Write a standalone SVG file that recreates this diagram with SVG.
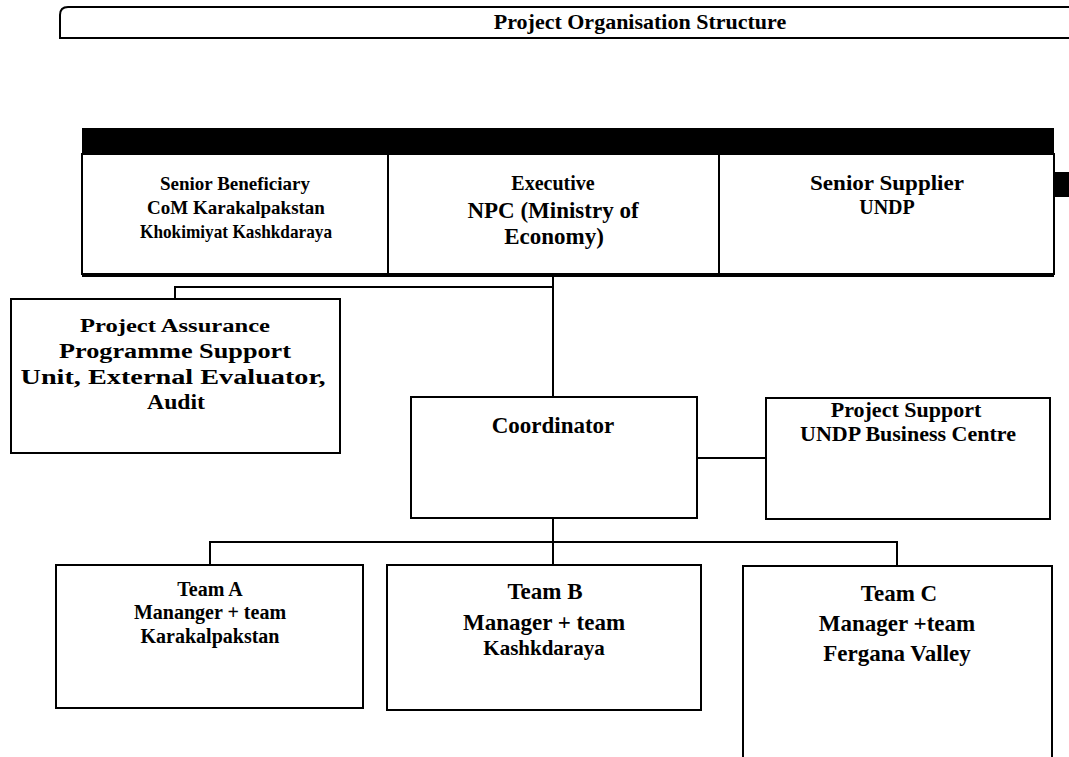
<svg xmlns="http://www.w3.org/2000/svg" width="1069" height="757" viewBox="0 0 1069 757">
<style>
.box{fill:#fff;stroke:#000;stroke-width:2}
.c{fill:none;stroke:#000;stroke-width:2}
text{font-family:"Liberation Serif","Times New Roman",serif;font-weight:bold;fill:#000;text-anchor:middle}
.s18{font-size:18px}
.s19{font-size:19px}
.s20{font-size:20px}
.s21{font-size:21px}
.s22{font-size:22px}
.s23{font-size:23px}
</style>
<rect width="1069" height="757" fill="#fff"/>
<g id="title">
<path d="M1075,7 H68 Q60,7 60,15 V38 H1075" fill="none" stroke="#000" stroke-width="2"/>
<text x="640" y="29" class="s22">Project Organisation Structure</text>
</g>
<g id="board">
<rect x="82" y="128" width="972" height="26" fill="#000"/>
<rect x="1054" y="172" width="15" height="25" fill="#000"/>
</g>
<g id="senior-beneficiary">
<rect class="box" x="82" y="154" width="306" height="120"/>
<text x="235" y="190" class="s19">Senior Beneficiary</text>
<text x="236" y="214" class="s19">CoM Karakalpakstan</text>
<text x="236" y="238" class="s19" textLength="192" lengthAdjust="spacingAndGlyphs">Khokimiyat Kashkdaraya</text>
</g>
<g id="executive">
<rect class="box" x="388" y="154" width="331" height="120"/>
<text x="553" y="190" class="s20">Executive</text>
<text x="553" y="218" class="s23">NPC (Ministry of</text>
<text x="554" y="244" class="s23">Economy)</text>
</g>
<g id="senior-supplier">
<rect class="box" x="719" y="154" width="335" height="120"/>
<text x="887" y="190" class="s20" textLength="154" lengthAdjust="spacingAndGlyphs">Senior Supplier</text>
<text x="887" y="214" class="s20">UNDP</text>
</g>
<g id="connectors">
<path class="c" d="M82,276 H1054"/>
<path class="c" d="M175,299 V287 H553"/>
<path class="c" d="M553,276 V397"/>
<path class="c" d="M697,458 H766"/>
<path class="c" d="M553,518 V542"/>
<path class="c" d="M210,565 V542 H897 V566"/>
<path class="c" d="M553,542 V565"/>
</g>
<g id="project-assurance">
<rect class="box" x="11" y="299" width="329" height="154"/>
<text x="175" y="332" class="s18" textLength="190" lengthAdjust="spacingAndGlyphs">Project Assurance</text>
<text x="175" y="358" class="s20" textLength="232" lengthAdjust="spacingAndGlyphs">Programme Support</text>
<text x="173" y="384" class="s20" textLength="305" lengthAdjust="spacingAndGlyphs">Unit, External Evaluator,</text>
<text x="176" y="409" class="s20" textLength="58" lengthAdjust="spacingAndGlyphs">Audit</text>
</g>
<g id="coordinator">
<rect class="box" x="411" y="397" width="286" height="121"/>
<text x="553" y="433" class="s23">Coordinator</text>
</g>
<g id="project-support">
<rect class="box" x="766" y="398" width="284" height="121"/>
<text x="906" y="417" class="s22">Project Support</text>
<text x="908" y="441" class="s22">UNDP Business Centre</text>
</g>
<g id="team-a">
<rect class="box" x="56" y="565" width="307" height="143"/>
<text x="210" y="596" class="s20">Team A</text>
<text x="210" y="619" class="s20">Mananger  + team</text>
<text x="210" y="643" class="s20">Karakalpakstan</text>
</g>
<g id="team-b">
<rect class="box" x="387" y="565" width="314" height="145"/>
<text x="545" y="599" class="s23">Team B</text>
<text x="544" y="630" class="s23">Manager + team</text>
<text x="544" y="655" class="s21">Kashkdaraya</text>
</g>
<g id="team-c">
<path class="box" d="M743,760 V566 H1052 V760"/>
<text x="899" y="601" class="s23">Team C</text>
<text x="897" y="631" class="s23">Manager +team</text>
<text x="897" y="661" class="s23">Fergana Valley</text>
</g>
</svg>
